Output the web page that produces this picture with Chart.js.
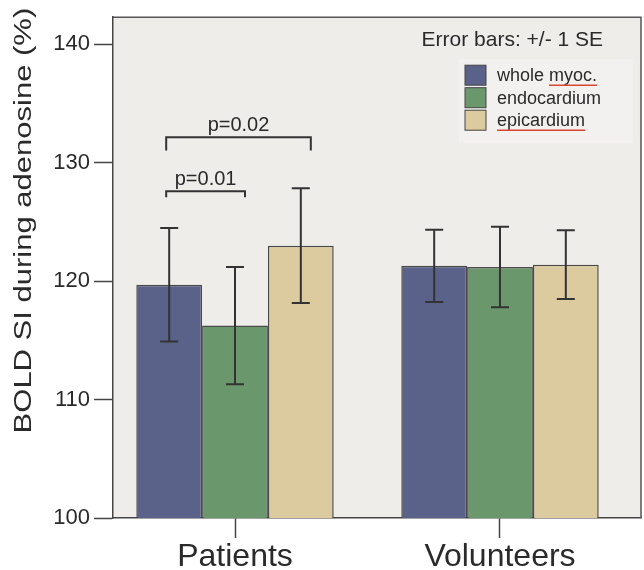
<!DOCTYPE html>
<html>
<head>
<meta charset="utf-8">
<script src="https://cdn.jsdelivr.net/npm/chart.js@4.4.0/dist/chart.umd.min.js"></script>
<style>
  html, body { margin: 0; padding: 0; background: #fff; }
  #wrap { width: 644px; height: 570px; }
</style>
</head>
<body>
<div id="wrap"><canvas id="bold-chart"></canvas></div>
<script>
// data
const groups = ['Patients', 'Volunteers'];
const seriesNames = ['whole myoc.', 'endocardium', 'epicardium'];
const seriesColors = ['#5a6289', '#6a986c', '#dccb9f'];
const wholeMyoc = [119.7, 121.3];
const endocardium = [116.25, 121.2];
const epicardium = [123.0, 121.4];
const wholeMyocSE = [4.8, 3.05];
const endocardiumSE = [4.95, 3.4];
const epicardiumSE = [4.85, 2.9];
const yTicks = [100, 110, 120, 130, 140];
const yTitle = 'BOLD SI during adenosine (%)';
const errorNote = 'Error bars: +/- 1 SE';
// significance brackets within Patients (series index a -> b)
const brackets = [
  { from: 0, to: 1, label: 'p=0.01', level: 127.6, drop: 0.5 },
  { from: 0, to: 2, label: 'p=0.02', level: 132.15, drop: 1.1 },
];

const means = [wholeMyoc, endocardium, epicardium];
const ses = [wholeMyocSE, endocardiumSE, epicardiumSE];
const FONT = "'Liberation Sans', Arial, Helvetica, sans-serif";
const INK = '#2a2a2a';

Chart.defaults.font.family = FONT;
Chart.defaults.color = INK;

const plotBox = {
  id: 'plotBox',
  beforeDraw(chart) {
    const { ctx, chartArea: a } = chart;
    ctx.save();
    ctx.fillStyle = '#efedea';
    ctx.fillRect(a.left, a.top, a.right - a.left, a.bottom - a.top);
    ctx.restore();
  },
  afterDraw(chart) {
    const { ctx, chartArea: a } = chart;
    ctx.save();
    ctx.strokeStyle = '#555';
    ctx.lineWidth = 1.5;
    ctx.beginPath();
    ctx.moveTo(a.left, a.top);
    ctx.lineTo(a.right, a.top);
    ctx.lineTo(a.right, a.bottom);
    ctx.stroke();
    ctx.restore();
  }
};

const errorBars = {
  id: 'errorBars',
  afterDatasetsDraw(chart) {
    const { ctx } = chart;
    const y = chart.scales.y;
    ctx.save();
    ctx.strokeStyle = '#333';
    ctx.lineWidth = 2;
    chart.data.datasets.forEach((ds, di) => {
      chart.getDatasetMeta(di).data.forEach((bar, i) => {
        const m = means[di][i], se = ses[di][i];
        const yt = y.getPixelForValue(m + se);
        const yb = y.getPixelForValue(m - se);
        ctx.beginPath();
        ctx.moveTo(bar.x, yt); ctx.lineTo(bar.x, yb);
        ctx.moveTo(bar.x - 9, yt); ctx.lineTo(bar.x + 9, yt);
        ctx.moveTo(bar.x - 9, yb); ctx.lineTo(bar.x + 9, yb);
        ctx.stroke();
      });
    });
    ctx.restore();
  }
};

const annotations = {
  id: 'annotations',
  afterDraw(chart) {
    const { ctx, chartArea: a } = chart;
    const y = chart.scales.y;
    ctx.save();

    // y axis title (the figure is a little stretched vertically)
    ctx.save();
    ctx.translate(24, (a.top + a.bottom) / 2 - 47);
    ctx.rotate(-Math.PI / 2);
    ctx.scale(1, 0.8);
    ctx.fillStyle = INK;
    ctx.font = '31px ' + FONT;
    ctx.textAlign = 'center';
    ctx.textBaseline = 'middle';
    ctx.fillText(yTitle, 0, 0);
    ctx.restore();

    // p-value brackets
    ctx.strokeStyle = '#333';
    ctx.lineWidth = 2;
    ctx.fillStyle = INK;
    ctx.font = '20px ' + FONT;
    ctx.textAlign = 'center';
    ctx.textBaseline = 'alphabetic';
    brackets.forEach(b => {
      const x1 = chart.getDatasetMeta(b.from).data[0].x - 3;
      const x2 = chart.getDatasetMeta(b.to).data[0].x + 10;
      const yl = y.getPixelForValue(b.level);
      const yd = y.getPixelForValue(b.level - b.drop);
      ctx.beginPath();
      ctx.moveTo(x1, yd); ctx.lineTo(x1, yl); ctx.lineTo(x2, yl); ctx.lineTo(x2, yd);
      ctx.stroke();
      ctx.fillText(b.label, (x1 + x2) / 2, yl - 6);
    });

    // legend
    ctx.fillStyle = '#f2f1ef';
    ctx.fillRect(a.right - 182, a.top + 42, 174, 84);
    ctx.fillStyle = INK;
    ctx.font = '21px ' + FONT;
    ctx.textAlign = 'right';
    ctx.textBaseline = 'middle';
    ctx.fillText(errorNote, a.right - 38, a.top + 23);

    ctx.font = '18px ' + FONT;
    ctx.textAlign = 'left';
    seriesNames.forEach((name, i) => {
      const sy = a.top + 48 + i * 22.5;
      ctx.fillStyle = seriesColors[i];
      ctx.fillRect(a.right - 176, sy, 21, 20);
      ctx.strokeStyle = '#444';
      ctx.lineWidth = 1;
      ctx.strokeRect(a.right - 176, sy, 21, 20);
      ctx.fillStyle = INK;
      const tx = a.right - 144, ty = sy + 11;
      ctx.fillText(name, tx, ty);
      // spell-check underline seen in the figure
      const words = name.split(' ');
      const last = words[words.length - 1];
      if (i !== 1) {
        const pre = ctx.measureText(name.slice(0, name.length - last.length)).width;
        const w = ctx.measureText(last).width;
        ctx.strokeStyle = '#d9482e';
        ctx.lineWidth = 1.5;
        ctx.beginPath();
        ctx.moveTo(tx + pre, ty + 9);
        ctx.lineTo(tx + pre + w, ty + 9);
        ctx.stroke();
      }
    });
    ctx.restore();
  }
};

const datasets = seriesNames.map((name, si) => ({
  label: name,
  data: means[si].map((v, i) => ({ x: i, y: v })),
  backgroundColor: seriesColors[si],
  borderColor: '#4a4a4a',
  borderWidth: 1.5,
  categoryPercentage: 0.745,
  barPercentage: 1.0,
}));

const boldChart = new Chart(document.getElementById('bold-chart'), {
  type: 'bar',
  data: { datasets: datasets },
  options: {
    responsive: true,
    maintainAspectRatio: false,
    animation: false,
    devicePixelRatio: 1,
    layout: { padding: { top: 5, right: 3, left: 0, bottom: 0 } },
    scales: {
      x: {
        type: 'linear',
        offset: false,
        min: -0.4604,
        max: 1.5321,
        afterBuildTicks: s => { s.ticks = groups.map((g, i) => ({ value: i })); },
        afterFit: s => { s.height = 52; },
        grid: { offset: false, drawOnChartArea: false, tickLength: 20, tickColor: '#444', tickWidth: 1.5 },
        border: { color: '#444', width: 1.5 },
        ticks: {
          callback: v => groups[v],
          font: { size: 32 },
          color: INK,
          padding: 0,
          autoSkip: false,
          maxRotation: 0,
        },
      },
      y: {
        min: 100,
        max: 142.3,
        afterBuildTicks: s => { s.ticks = yTicks.map(v => ({ value: v })); },
        afterFit: s => { s.width = 113; },
        grid: { drawOnChartArea: false, tickLength: 19, tickColor: '#444', tickWidth: 1.5 },
        border: { color: '#444', width: 1.5 },
        ticks: { font: { size: 22 }, color: INK, padding: 4 },
      },
    },
    plugins: {
      legend: { display: false },
      tooltip: { enabled: false },
    },
  },
  plugins: [plotBox, errorBars, annotations],
});
</script>
</body>
</html>
